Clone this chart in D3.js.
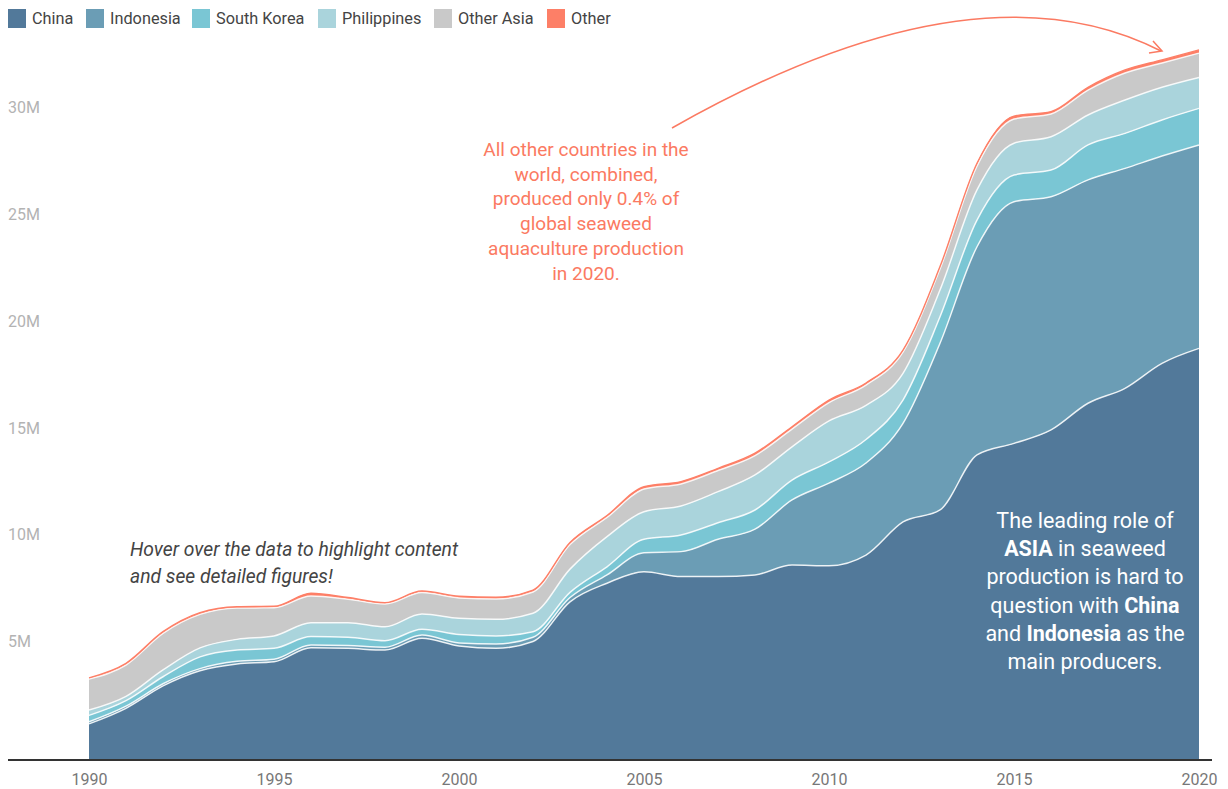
<!DOCTYPE html>
<html>
<head>
<meta charset="utf-8">
<script src="https://cdn.jsdelivr.net/npm/d3@7/dist/d3.min.js"></script>
<style>
  html, body { margin: 0; padding: 0; background: #fff; }
  svg { display: block; font-family: Roboto, "Noto Sans", sans-serif; }
</style>
</head>
<body>
<svg id="chart" width="1228" height="789"></svg>
<script>
const years = d3.range(1990, 2021);
const seriesNames = ["China", "Indonesia", "South Korea", "Philippines", "Other Asia", "Other"];
const seriesColors = ["#52799a", "#6b9db5", "#7ac6d4", "#aad4dc", "#c9c9c9", "#fd7f67"];

// values in million tonnes
const china = [1.69, 2.42, 3.47, 4.18, 4.50, 4.60, 5.26, 5.23, 5.15, 5.70, 5.34, 5.23, 5.55, 7.41, 8.28, 8.82, 8.59, 8.59, 8.67, 9.13, 9.10, 9.60, 11.15, 11.71, 14.29, 14.83, 15.46, 16.71, 17.41, 18.58, 19.28];
const indonesia = [0.10, 0.10, 0.10, 0.10, 0.12, 0.12, 0.13, 0.13, 0.13, 0.15, 0.14, 0.20, 0.20, 0.20, 0.39, 0.89, 1.17, 1.75, 2.14, 3.05, 3.87, 4.31, 4.62, 7.81, 9.75, 11.32, 10.92, 10.46, 10.30, 9.71, 9.53];
const southKorea = [0.30, 0.26, 0.33, 0.55, 0.53, 0.51, 0.39, 0.39, 0.31, 0.27, 0.40, 0.38, 0.26, 0.24, 0.38, 0.63, 0.78, 0.77, 0.90, 0.93, 0.99, 1.10, 1.09, 1.24, 1.25, 1.25, 1.25, 1.64, 1.64, 1.69, 1.71];
const philippines = [0.25, 0.20, 0.32, 0.42, 0.50, 0.58, 0.65, 0.68, 0.65, 0.72, 0.76, 0.78, 0.86, 1.09, 1.41, 1.29, 1.36, 1.46, 1.64, 1.56, 1.92, 1.60, 1.25, 1.25, 1.41, 1.49, 1.56, 1.40, 1.56, 1.53, 1.45];
const otherAsia = [1.45, 1.47, 1.71, 1.57, 1.47, 1.32, 1.25, 1.10, 1.07, 1.00, 0.95, 0.95, 1.00, 1.15, 0.90, 1.06, 1.03, 0.99, 0.91, 0.83, 0.86, 0.95, 1.00, 0.99, 1.12, 1.13, 1.07, 1.17, 1.27, 1.14, 1.14];
const other = [0.06, 0.08, 0.08, 0.08, 0.06, 0.07, 0.13, 0.08, 0.06, 0.08, 0.08, 0.08, 0.09, 0.10, 0.09, 0.11, 0.11, 0.10, 0.11, 0.11, 0.12, 0.10, 0.09, 0.11, 0.13, 0.14, 0.11, 0.13, 0.14, 0.14, 0.15];

const yTicks = [5, 10, 15, 20, 25, 30];
const xTicks = [1990, 1995, 2000, 2005, 2010, 2015, 2020];

const seriesValues = [china, indonesia, southKorea, philippines, otherAsia, other];
const table = years.map((yr, i) => {
  const row = { year: yr };
  seriesNames.forEach((n, k) => row[n] = seriesValues[k][i]);
  return row;
});

const svg = d3.select("#chart");
const x = d3.scaleLinear().domain([1990, 2020]).range([89, 1199]);
const y = d3.scaleLinear().domain([0, 30]).range([760, 119.5]);
const color = d3.scaleOrdinal().domain(seriesNames).range(seriesColors);

const stack = d3.stack().keys(seriesNames);
const layers = stack(table);

const area = d3.area()
  .x(d => x(d.data.year))
  .y0(d => y(d[0]))
  .y1(d => y(d[1]))
  .curve(d3.curveMonotoneX);
const topLine = d3.line()
  .x(d => x(d.data.year))
  .y(d => y(d[1]))
  .curve(d3.curveMonotoneX);

svg.append("g").selectAll("path")
  .data(layers)
  .join("path")
  .attr("d", area)
  .attr("fill", d => color(d.key));

// white separators between layers
svg.append("g").selectAll("path")
  .data(layers.slice(0, 5))
  .join("path")
  .attr("d", topLine)
  .attr("fill", "none")
  .attr("stroke", "#ffffff")
  .attr("stroke-opacity", 0.85)
  .attr("stroke-width", 1.5);

// top edge of "Other"
svg.append("path")
  .datum(layers[5])
  .attr("d", topLine)
  .attr("fill", "none")
  .attr("stroke", "#fd7f67")
  .attr("stroke-width", 1.4);

// y axis
const yAxis = svg.append("g")
  .call(d3.axisRight(y).tickValues(yTicks).tickFormat(d => d + "M").tickSize(0));
yAxis.select(".domain").remove();
yAxis.selectAll("text")
  .attr("x", 8)
  .attr("dy", "-0.42em")
  .attr("text-anchor", "start")
  .attr("fill", "#b3b3b3")
  .style("font-size", "16px")
  .style("font-family", "Roboto, sans-serif");

// x axis
const xAxis = svg.append("g")
  .attr("transform", "translate(0,760)")
  .call(d3.axisBottom(x).tickValues(xTicks).tickFormat(d3.format("d")).tickSize(0));
xAxis.select(".domain").remove();
xAxis.selectAll("text")
  .attr("y", 14)
  .attr("dy", "0.71em")
  .attr("fill", "#777")
  .style("font-size", "16px")
  .style("font-family", "Roboto, sans-serif");

svg.append("line")
  .attr("x1", 8).attr("x2", 1212)
  .attr("y1", 760).attr("y2", 760)
  .attr("stroke", "#333")
  .attr("stroke-width", 2);

// legend
const legendX = [8, 86, 192, 318, 434, 547];
const legend = svg.append("g");
seriesNames.forEach((n, i) => {
  const g = legend.append("g").attr("transform", `translate(${legendX[i]},9)`);
  g.append("rect").attr("width", 18).attr("height", 19).attr("fill", color(n));
  g.append("text").attr("x", 24).attr("y", 15)
    .attr("fill", "#444")
    .style("font-size", "16.3px")
    .text(n);
});

// red annotation
const redLines = ["All other countries in the", "world, combined,", "produced only 0.4% of", "global seaweed", "aquaculture production", "in 2020."];
svg.append("g").selectAll("text")
  .data(redLines)
  .join("text")
  .attr("x", 586)
  .attr("y", (d, i) => 156 + i * 24.7)
  .attr("text-anchor", "middle")
  .attr("fill", "#fb7a62")
  .style("font-size", "19px")
  .text(d => d);

// arrow
svg.append("path")
  .attr("d", "M672,128 Q975,-44 1161,51")
  .attr("fill", "none")
  .attr("stroke", "#fb7a62")
  .attr("stroke-width", 1.5);
svg.append("path")
  .attr("d", "M1153,41 L1162,51 L1149,53")
  .attr("fill", "none")
  .attr("stroke", "#fb7a62")
  .attr("stroke-width", 1.5);

// italic hint
const hint = ["Hover over the data to highlight content", "and see detailed figures!"];
svg.append("g").selectAll("text")
  .data(hint)
  .join("text")
  .attr("x", 130)
  .attr("y", (d, i) => 556 + i * 27)
  .attr("fill", "#444")
  .style("font-size", "19.3px")
  .style("font-style", "italic")
  .text(d => d);

// white annotation
const whiteLines = [
  [["The leading role of", false]],
  [["ASIA", true], [" in seaweed", false]],
  [["production is hard to", false]],
  [["question with ", false], ["China", true]],
  [["and ", false], ["Indonesia", true], [" as the", false]],
  [["main producers.", false]]
];
const wt = svg.append("g");
whiteLines.forEach((parts, i) => {
  const t = wt.append("text")
    .attr("x", 1085)
    .attr("y", 528 + i * 28.2)
    .attr("text-anchor", "middle")
    .attr("fill", "#ffffff")
    .style("font-size", "21.5px");
  parts.forEach(p => {
    t.append("tspan").attr("font-weight", p[1] ? "700" : "400").text(p[0]);
  });
});
</script>
</body>
</html>
